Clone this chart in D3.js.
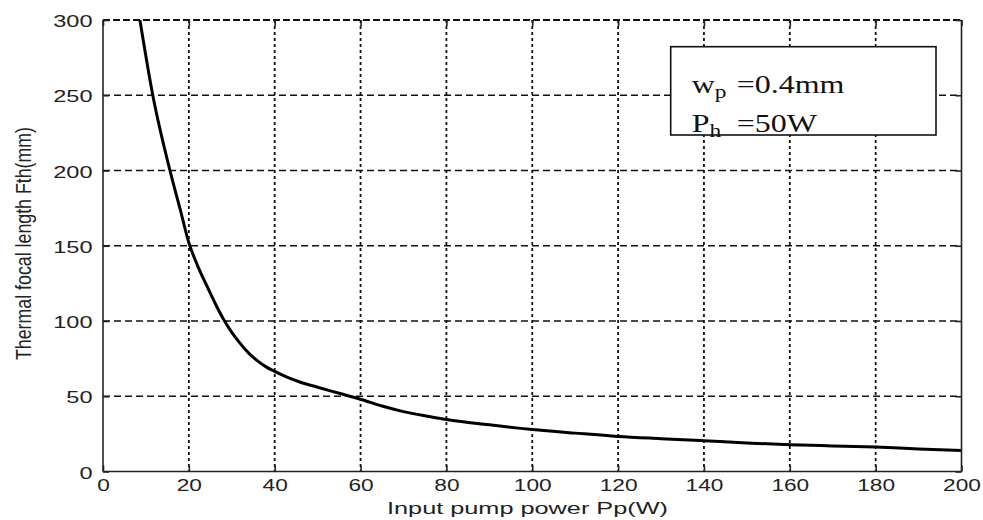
<!DOCTYPE html>
<html><head><meta charset="utf-8">
<script src="https://cdn.jsdelivr.net/npm/d3@7"></script>
<style>body{margin:0;background:#fff} svg{display:block}</style>
</head><body><svg id="c" width="983" height="520"></svg>
<script>
const xTicks = [0,20,40,60,80,100,120,140,160,180,200];
const yTicks = [0,50,100,150,200,250,300];
const pumpPower   = [8.6, 11.6, 15.6, 18, 20, 22, 24, 26, 28, 30, 32, 34, 36, 38, 40, 43, 46, 50, 55, 60, 65, 70, 75, 80, 90, 100, 110, 120, 130, 140, 150, 160, 170, 180, 190, 200];
const focalLength = [300, 250, 200, 174, 152, 137, 124.5, 112.5, 101.5, 92.5, 85, 78.5, 73.5, 69.5, 66.5, 62.5, 59.3, 56, 52, 48, 43.5, 39.8, 37, 34.6, 31, 27.9, 25.5, 23.3, 21.8, 20.4, 19, 17.8, 17, 16.2, 15, 14];
const xLabel = "Input pump power Pp(W)";
const yLabel = "Thermal focal length Fth(mm)";
const legendLines = [{main:"w", sub:"p", rest:"=0.4mm"}, {main:"P", sub:"h", rest:"=50W"}];

const svg = d3.select("#c");
const L=103, R=961.5, T=20, B=471.5;
const x = d3.scaleLinear().domain([0,200]).range([L,R]);
const y = d3.scaleLinear().domain([0,300]).range([B,T]);
const sans = "'Liberation Sans', Arial, sans-serif";

svg.append("rect").attr("width",983).attr("height",520).attr("fill","#fff");

// grid
const grid = svg.append("g");
grid.selectAll(".vg").data(xTicks.filter(d=>d>0 && d<200)).join("line")
  .attr("x1",d=>x(d)).attr("x2",d=>x(d)).attr("y1",T).attr("y2",B)
  .attr("stroke","#111").attr("stroke-width",1.8).attr("stroke-dasharray","3,3");
grid.selectAll(".hg").data(yTicks.filter(d=>d>0 && d<300)).join("line")
  .attr("x1",L).attr("x2",R).attr("y1",d=>y(d)).attr("y2",d=>y(d))
  .attr("stroke","#111").attr("stroke-width",1.5).attr("stroke-dasharray","7,4");

// frame
const frame = svg.append("g").attr("stroke","#222").attr("stroke-width",1.6);
frame.append("line").attr("x1",L).attr("x2",L).attr("y1",T).attr("y2",B);
frame.append("line").attr("x1",L).attr("x2",R).attr("y1",B).attr("y2",B);
frame.append("line").attr("x1",R).attr("x2",R).attr("y1",T).attr("y2",B);
svg.append("line").attr("x1",L).attr("x2",R).attr("y1",T).attr("y2",T)
  .attr("stroke","#111").attr("stroke-width",2.2).attr("stroke-dasharray","7,3");

// axes
const xAxis = svg.append("g").attr("transform",`translate(0,${B})`)
  .call(d3.axisBottom(x).tickValues(xTicks).tickSize(-6).tickPadding(8).tickFormat(d3.format("d")));
const yAxis = svg.append("g").attr("transform",`translate(${L},0)`)
  .call(d3.axisLeft(y).tickValues(yTicks).tickSize(-6).tickPadding(10).tickFormat(d3.format("d")));
svg.append("g").attr("transform",`translate(0,${T})`)
  .call(d3.axisTop(x).tickValues(xTicks).tickSize(-6).tickFormat(""));
svg.append("g").attr("transform",`translate(${R},0)`)
  .call(d3.axisRight(y).tickValues(yTicks).tickSize(-6).tickFormat(""));
svg.selectAll(".domain").remove();
svg.selectAll(".tick line").attr("stroke","#222").attr("stroke-width",1.6);

xAxis.selectAll("text")
  .attr("font-family",sans).attr("font-size",16).attr("fill","#222")
  .attr("dy",null).attr("y",19)
  .attr("textLength",d=>String(d).length*12.6).attr("lengthAdjust","spacingAndGlyphs");
yAxis.selectAll("text")
  .attr("font-family",sans).attr("font-size",16).attr("fill","#222")
  .attr("dy",null).attr("y",6.5).attr("x",-10.5)
  .attr("textLength",d=>String(d).length*13.1).attr("lengthAdjust","spacingAndGlyphs");

// axis titles
svg.append("text").attr("x",387).attr("y",514)
  .attr("font-family",sans).attr("font-size",16).attr("fill","#222")
  .attr("textLength",281).attr("lengthAdjust","spacingAndGlyphs").text(xLabel);
svg.append("text").attr("transform","translate(31,243.5) scale(1.4,1) rotate(-90)")
  .attr("text-anchor","middle")
  .attr("font-family",sans).attr("font-size",16).attr("fill","#222")
  .attr("textLength",233).attr("lengthAdjust","spacingAndGlyphs").text(yLabel);

// curve
svg.append("clipPath").attr("id","clip").append("rect")
  .attr("x",L).attr("y",T).attr("width",R-L).attr("height",B-T);
const line = d3.line().x((d,i)=>x(pumpPower[i])).y(d=>y(d)).curve(d3.curveMonotoneX);
svg.append("path").attr("clip-path","url(#clip)")
  .attr("d",line(focalLength)).attr("fill","none")
  .attr("stroke","#000").attr("stroke-width",3).attr("stroke-linejoin","round");

// legend box
svg.append("rect").attr("x",670.7).attr("y",46.7).attr("width",265.3).attr("height",88.3)
  .attr("fill","#fff").attr("stroke","#111").attr("stroke-width",1.6);
const lg = svg.append("g").attr("transform","translate(691.7,92.5) scale(1.23,1)");
legendLines.forEach((l,i)=>{
  const t = lg.append("text").attr("y",i*39.2)
    .attr("font-family","'Liberation Serif','Times New Roman',serif").attr("font-size",26).attr("fill","#111");
  t.append("tspan").attr("x",0).text(l.main);
  t.append("tspan").attr("font-size",19).attr("dy",5).text(l.sub);
  t.append("tspan").attr("x",36.6).attr("dy",-5).text(l.rest);
});
</script></body></html>
